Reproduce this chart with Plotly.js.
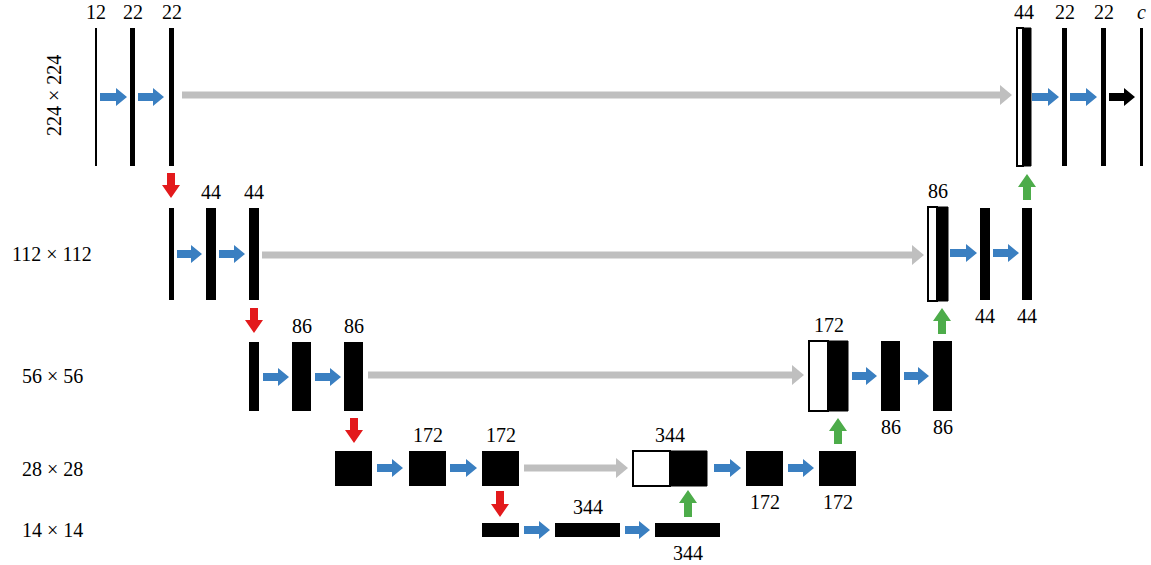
<!DOCTYPE html>
<html><head><meta charset="utf-8">
<script src="https://cdn.plot.ly/plotly-3.0.1.min.js"></script>
<style>html,body{margin:0;padding:0;background:#fff}</style>
</head><body>
<div id="chart" style="width:1151px;height:565px"></div>
<script>
// ---- data: resolution per level and channel labels of each feature map ----
const levelLabels = ['224 × 224', '112 × 112', '56 × 56', '28 × 28', '14 × 14'];
const blockChannels = ['12','22','22', '','44','44', '','86','86', '','172','172', '','344','344',
                       '344','172','172', '172','86','86', '86','44','44', '44','22','22','<i>c</i>'];
// ---- layout geometry (diagram units, 1 unit = 1 px) ----
// [x0, x1, y0, y1, labelSide, concatSplit]
const blockGeom = [
  [95,97,28,166,'a',0],[130,135,28,166,'a',0],[169,174,28,166,'a',0],
  [169,174,208,300,'',0],[206,216,208,300,'a',0],[249,259,208,300,'a',0],
  [249,259,342,411,'',0],[292,311,342,411,'a',0],[344,363,342,411,'a',0],
  [335,372,451,486,'',0],[409,446,451,486,'a',0],[482,519,451,486,'a',0],
  [482,519,523,537,'',0],[555,620,523,537,'a',0],[655,720,523,537,'b',0],
  [633,707,451,486,'a',670],[746,783,451,486,'b',0],[819,856,451,486,'b',0],
  [809,848,341,411,'a',828],[881,900,341,411,'b',0],[933,952,341,411,'b',0],
  [928,948,207,301,'a',937],[980,990,208,300,'b',0],[1022,1032,208,300,'b',0],
  [1017,1031,28,166,'a',1023],[1062,1067,28,166,'a',0],[1101,1106,28,166,'a',0],[1140,1143,28,166,'a',0]
];
const levelLabelPos = [[54,96],[52,254],[52,376],[52,469],[52,530]];
// arrows: [x0,y0,x1,y1,kind]
const arrows = [
  [100,97,127,97,'conv'],[138,97,164,97,'conv'],[1032,97,1059,97,'conv'],[1070,97,1097,97,'conv'],[1109,97,1135,97,'out'],
  [182,95,1012,95,'skip'],
  [177,254,202,254,'conv'],[219,254,245,254,'conv'],[950,253,977,253,'conv'],[993,253,1019,253,'conv'],
  [262,255,924,255,'skip'],
  [263,377,289,377,'conv'],[315,377,341,377,'conv'],[852,376,877,376,'conv'],[904,376,929,376,'conv'],
  [368,375,804,375,'skip'],
  [377,468,403,468,'conv'],[450,468,477,468,'conv'],[714,468,741,468,'conv'],[788,468,814,468,'conv'],
  [524,468,628,468,'skip'],
  [524,530,550,530,'conv'],[625,530,650,530,'conv'],
  [171,173,171,198,'down'],[254,308,254,333,'down'],[354,418,354,443,'down'],[500,491,500,517,'down'],
  [688,517,688,490,'up'],[838,444,838,418,'up'],[942,334,942,308,'up'],[1027,200,1027,174,'up']
];
const arrowStyle = {
  conv:{color:'#3a7fc1', shaft:4, head:9, len:11},
  out:{color:'#000000', shaft:4, head:9, len:11},
  skip:{color:'#bfbfbf', shaft:3.5, head:10, len:12},
  down:{color:'#e31a1c', shaft:4, head:9, len:13},
  up:{color:'#4dac4a', shaft:4, head:9, len:13}
};

function arrowPath(x0,y0,x1,y1,s){
  const dx=x1-x0, dy=y1-y0, L=Math.hypot(dx,dy), ux=dx/L, uy=dy/L, px=-uy, py=ux;
  const hx=x1-ux*s.len, hy=y1-uy*s.len;
  const pts=[[x0+px*s.shaft,y0+py*s.shaft],[hx+px*s.shaft,hy+py*s.shaft],[hx+px*s.head,hy+py*s.head],
             [x1,y1],[hx-px*s.head,hy-py*s.head],[hx-px*s.shaft,hy-py*s.shaft],[x0-px*s.shaft,y0-py*s.shaft]];
  return 'M'+pts.map(p=>p[0].toFixed(2)+','+p[1].toFixed(2)).join(' L')+' Z';
}

const shapes=[], annotations=[];
const font={family:'Liberation Serif, Times New Roman, serif', size:20, color:'#000'};
blockGeom.forEach((g,i)=>{
  const [x0,x1,y0,y1,side,split]=g;
  if(split){
    shapes.push({type:'rect',xref:'x',yref:'y',x0:x0,x1:split,y0:y0,y1:y1,fillcolor:'#ffffff',line:{color:'#000',width:2}});
    shapes.push({type:'rect',xref:'x',yref:'y',x0:split,x1:x1,y0:y0,y1:y1,fillcolor:'#000',line:{color:'#000',width:1}});
  } else {
    shapes.push({type:'rect',xref:'x',yref:'y',x0:x0,x1:x1,y0:y0,y1:y1,fillcolor:'#000',line:{width:0}});
  }
  const t=blockChannels[i];
  if(t && side){
    const cx=(x0+x1)/2;
    annotations.push({x:cx,y: side==='a'? y0-3 : y1+3, xref:'x',yref:'y',text:t,showarrow:false,
      xanchor:'center',yanchor: side==='a'?'bottom':'top',font:font});
  }
});
arrows.forEach(a=>{
  shapes.push({type:'path',xref:'x',yref:'y',path:arrowPath(a[0],a[1],a[2],a[3],arrowStyle[a[4]]),
    fillcolor:arrowStyle[a[4]].color,line:{width:0}});
});
levelLabels.forEach((t,i)=>{
  annotations.push({x:levelLabelPos[i][0],y:levelLabelPos[i][1],xref:'x',yref:'y',text:t,showarrow:false,
    textangle: i===0?-90:0, xanchor:'center',yanchor:'middle',font:font});
});

Plotly.newPlot('chart',[{x:[0],y:[0],mode:'markers',marker:{opacity:0},hoverinfo:'skip',showlegend:false}],{
  width:1151,height:565,margin:{l:0,r:0,t:0,b:0},paper_bgcolor:'#fff',plot_bgcolor:'#fff',
  xaxis:{range:[0,1151],visible:false,fixedrange:true},
  yaxis:{range:[565,0],visible:false,fixedrange:true},
  shapes:shapes,annotations:annotations,showlegend:false
},{staticPlot:true});
</script>
</body></html>
